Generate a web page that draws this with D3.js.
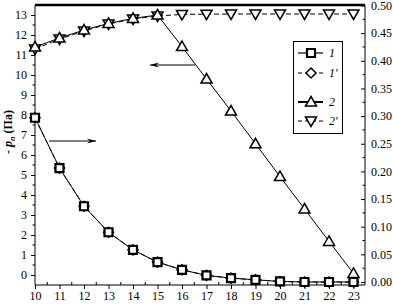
<!DOCTYPE html>
<html>
<head>
<meta charset="utf-8">
<script src="https://cdn.jsdelivr.net/npm/d3@7"></script>
<style>
  body{margin:0;background:#fff;}
  svg{display:block;font-family:"Liberation Serif","Times New Roman",serif;}
</style>
</head>
<body>
<svg id="chart" width="393" height="304"></svg>
<script>
/* data */
var xs = [10,11,12,13,14,15,16,17,18,19,20,21,22,23];
var s1  = [0.297,0.206,0.137,0.090,0.058,0.036,0.022,0.012,0.007,0.004,0.001,0,0,0];     // right axis
var s1p = [0.297,0.206,0.137,0.090,0.058,0.036,0.022,0.012,0.007,0.004,0.001,0,0,0];     // right axis
var s2  = [11.4,11.85,12.25,12.58,12.83,13.0,11.42,9.8,8.2,6.56,4.92,3.3,1.68,0.08];      // left axis
var s2p = [11.3,11.8,12.2,12.55,12.8,12.95,13.03,13.04,13.05,13.05,13.05,13.05,13.05,13.05];
var leftTicks = [0,1,2,3,4,5,6,7,8,9,10,11,12,13];
var rightTicks = [0,0.05,0.10,0.15,0.20,0.25,0.30,0.35,0.40,0.45,0.50];
var legendLabels = ['1','1\u2032','2','2\u2032'];

var L=35, R=365, T=5, B=285;
var svg=d3.select('#chart');
var x=d3.scaleLinear().domain([10,23]).range([35,353.5]);
var yL=d3.scaleLinear().domain([-0.5,13.5]).range([B,T]);
var yR=d3.scaleLinear().domain([0,0.5]).range([282,5.5]);

/* axes frame */
svg.append('line').attr('x1',L).attr('x2',R).attr('y1',T).attr('y2',T).attr('stroke','#000').attr('stroke-width',2.5);

var gx=svg.append('g').attr('transform','translate(0,'+B+')')
  .call(d3.axisBottom(x).tickValues(xs).tickSize(4).tickSizeOuter(0).tickPadding(2).tickFormat(d3.format('d')));
gx.select('.domain').attr('d','M'+L+',0H'+R);
// minor ticks pointing up
gx.selectAll('.mn').data(d3.range(10.5,23.5,1)).enter().append('line')
  .attr('x1',function(d){return x(d)}).attr('x2',function(d){return x(d)}).attr('y1',0).attr('y2',-3).attr('stroke','#000');

var gl=svg.append('g').attr('transform','translate('+L+',0)')
  .call(d3.axisLeft(yL).tickValues(leftTicks).tickSize(4).tickSizeOuter(0).tickPadding(4));
gl.select('.domain').attr('d','M0,'+T+'V'+B);
gl.selectAll('.mn').data(d3.range(0.5,13.5,1)).enter().append('line')
  .attr('x1',0).attr('x2',-2.5).attr('y1',function(d){return yL(d)}).attr('y2',function(d){return yL(d)}).attr('stroke','#000');

var gr=svg.append('g').attr('transform','translate('+R+',0)')
  .call(d3.axisRight(yR).tickValues(rightTicks).tickSize(-4).tickSizeOuter(0).tickPadding(6).tickFormat(d3.format('.2f')));
gr.select('.domain').attr('d','M0,'+T+'V'+B);
gr.selectAll('.mn').data(d3.range(0.025,0.5,0.05)).enter().append('line')
  .attr('x1',0).attr('x2',-2.5).attr('y1',function(d){return yR(d)}).attr('y2',function(d){return yR(d)}).attr('stroke','#000');

svg.selectAll('.tick text').attr('font-size','12px').attr('fill','#000')
  .attr('font-family','"Liberation Serif",serif');
gr.selectAll('.tick text').attr('x',6);

/* y title */
var yt=svg.append('text').attr('transform','translate(12,132) rotate(-90)')
  .attr('text-anchor','middle').attr('font-size','12px').attr('font-weight','bold');
yt.append('tspan').text('- ');
yt.append('tspan').attr('font-style','italic').text('p');
yt.append('tspan').attr('font-style','italic').attr('font-size','8px').attr('dy',3).text('n');
yt.append('tspan').attr('dy',-3).text(' (Па)');

/* series */
function line(ys,sc){
  return d3.line().x(function(d,i){return x(xs[i])}).y(function(d){return sc(d)})(ys);
}
svg.append('path').attr('d',line(s1p,yR)).attr('fill','none').attr('stroke','#000').attr('stroke-width',1).attr('stroke-dasharray','5,3');
svg.append('path').attr('d',line(s1,yR)).attr('fill','none').attr('stroke','#000').attr('stroke-width',1);
svg.append('path').attr('d',line(s2p,yL)).attr('fill','none').attr('stroke','#000').attr('stroke-width',1).attr('stroke-dasharray','5,3');
svg.append('path').attr('d',line(s2,yL)).attr('fill','none').attr('stroke','#000').attr('stroke-width',1);

function marker(g,type,cx,cy){
  var p;
  if(type==='sq') p='M-4,-4H4V4H-4Z';
  else if(type==='di') p='M0,-5L5,0L0,5L-5,0Z';
  else if(type==='up') p='M0,-5.5L5.5,4L-5.5,4Z';
  else p='M0,5.5L5.5,-4L-5.5,-4Z';
  g.append('path').attr('d',p).attr('transform','translate('+cx+','+cy+')')
    .attr('fill','#fff').attr('stroke','#000').attr('stroke-width',type==='sq'?2.2:1.5);
}
var mg=svg.append('g');
s1p.forEach(function(d,i){marker(mg,'di',x(xs[i]),yR(d))});
s1.forEach(function(d,i){marker(mg,'sq',x(xs[i]),yR(d))});
s2p.forEach(function(d,i){marker(mg,'dn',x(xs[i]),yL(d))});
s2.forEach(function(d,i){marker(mg,'up',x(xs[i]),yL(d))});

/* arrows */
function arrow(x1,x2,y){
  svg.append('line').attr('x1',x1).attr('x2',x2).attr('y1',y).attr('y2',y).attr('stroke','#000').attr('stroke-width',1);
  var dir=x2>x1?1:-1;
  svg.append('path').attr('d','M'+x2+','+y+'L'+(x2-dir*9)+','+(y-2.5)+'L'+(x2-dir*6)+','+y+'L'+(x2-dir*9)+','+(y+2.5)+'Z').attr('fill','#000');
}
arrow(195,150,65);
arrow(49,96,141);

/* legend */
var lg=svg.append('g');
lg.append('rect').attr('x',293.5).attr('y',41.5).attr('width',49).attr('height',92).attr('fill','#fff').attr('stroke','#000');
var ly=[53,73,102,121], lt=['sq','di','up','dn'];
ly.forEach(function(yy,i){
  lg.append('line').attr('x1',298).attr('x2',323).attr('y1',yy).attr('y2',yy).attr('stroke','#000')
    .attr('stroke-width',i===2?2:1.2).attr('stroke-dasharray',(i===1||i===3)?'4,3':null);
  marker(lg,lt[i],311,yy);
  lg.append('text').attr('x',329).attr('y',yy+4).attr('font-size','12px').attr('font-style','italic').text(legendLabels[i]);
});
</script>
</body>
</html>
